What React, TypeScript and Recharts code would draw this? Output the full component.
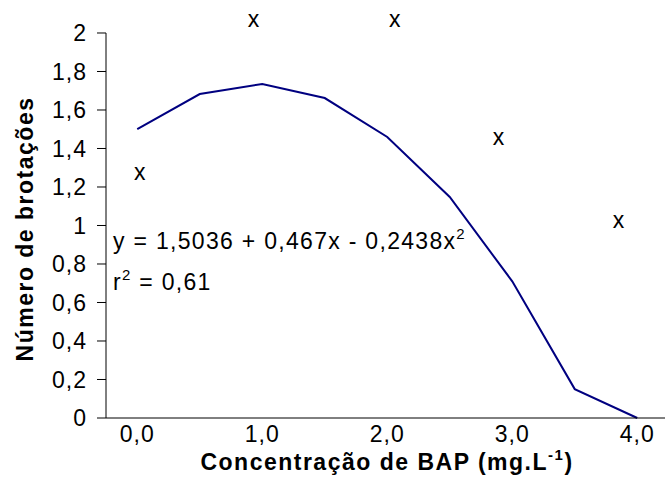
import { ComposedChart, Line, Scatter, XAxis, YAxis, ReferenceLine } from "recharts"

const doses = [0, 0.5, 1, 1.5, 2, 2.5, 3, 3.5, 4]
const fitted = [1.5, 1.683, 1.735, 1.662, 1.46, 1.148, 0.71, 0.15, 0]
const obsX = [0.02, 0.93, 2.06, 2.89, 3.85]
const obsY = [1.27, 2.06, 2.06, 1.45, 1.02]
const xLabels = [0, 1, 2, 3, 4]
const xTickMarks = [0.25, 0.75, 1.25, 1.75, 2.25, 2.75, 3.25, 3.75]
const yTicks = [0, 0.2, 0.4, 0.6, 0.8, 1, 1.2, 1.4, 1.6, 1.8, 2]

const lineData = doses.map((x, i) => ({ x, y: fitted[i] }))
const obsData = obsX.map((x, i) => ({ x, y: obsY[i] }))

const FONT = "'Liberation Sans', Arial, sans-serif"
const fmtY = (v: number) => String(Math.round(v * 10) / 10).replace(".", ",")
const fmtX = (v: number) => v.toFixed(1).replace(".", ",")

const XMark = (props: any) => (
  <text
    x={props.cx}
    y={props.cy + 6}
    textAnchor="middle"
    fontSize={23}
    fontFamily={FONT}
    fill="#000"
  >
    x
  </text>
)

export default function App() {
  const tickStyle = { fontSize: 23, fill: "#000", fontFamily: FONT, letterSpacing: 1 }
  return (
    <div style={{ position: "absolute", left: 0, top: 0, background: "#fff" }}>
      <ComposedChart width={665} height={480} margin={{ top: 0, right: 0, bottom: 32, left: 0 }}>
        <XAxis
          dataKey="x"
          type="number"
          domain={[-0.25, 4.222]}
          ticks={xLabels}
          tickFormatter={fmtX}
          tick={tickStyle}
          tickLine={false}
          axisLine={{ stroke: "#000" }}
          height={30}
        />
        <XAxis
          xAxisId="marks"
          type="number"
          domain={[-0.25, 4.222]}
          allowDataOverflow
          ticks={xTickMarks}
          tick={false}
          tickLine={{ stroke: "#000" }}
          tickSize={7}
          mirror
          axisLine={false}
          height={0}
        />
        <YAxis
          type="number"
          domain={[0, 2.1714]}
          ticks={yTicks}
          tickFormatter={fmtY}
          tick={tickStyle}
          tickLine={{ stroke: "#000" }}
          tickSize={9}
          tickMargin={10}
          axisLine={false}
          width={106}
        />
        <ReferenceLine segment={[{ x: -0.25, y: 0 }, { x: -0.25, y: 2 }]} stroke="#000" />
        <Line
          data={lineData}
          dataKey="y"
          type="linear"
          stroke="#000080"
          strokeWidth={2}
          dot={false}
          isAnimationActive={false}
        />
        <Scatter data={obsData} dataKey="y" shape={XMark} isAnimationActive={false} />
        <text x={113} y={249} fontSize={23} fontFamily={FONT} letterSpacing={1.3} fill="#000">
          y = 1,5036 + 0,467x - 0,2438x
          <tspan fontSize={15} dy={-10}>2</tspan>
        </text>
        <text x={113} y={290} fontSize={23} fontFamily={FONT} letterSpacing={1.3} fill="#000">
          r<tspan fontSize={15} dy={-10}>2</tspan>
          <tspan dy={10}> = 0,61</tspan>
        </text>
        <text
          x={387}
          y={470}
          textAnchor="middle"
          fontSize={23}
          fontWeight="bold"
          fontFamily={FONT}
          letterSpacing={1.5}
          fill="#000"
        >
          Concentração de BAP (mg.L<tspan fontSize={15} dy={-10}>-1</tspan>
          <tspan dy={10}>)</tspan>
        </text>
        <text
          x={33}
          y={229}
          transform="rotate(-90 33 229)"
          textAnchor="middle"
          fontSize={23}
          fontWeight="bold"
          fontFamily={FONT}
          letterSpacing={1.5}
          fill="#000"
        >
          Número de brotações
        </text>
      </ComposedChart>
    </div>
  )
}
